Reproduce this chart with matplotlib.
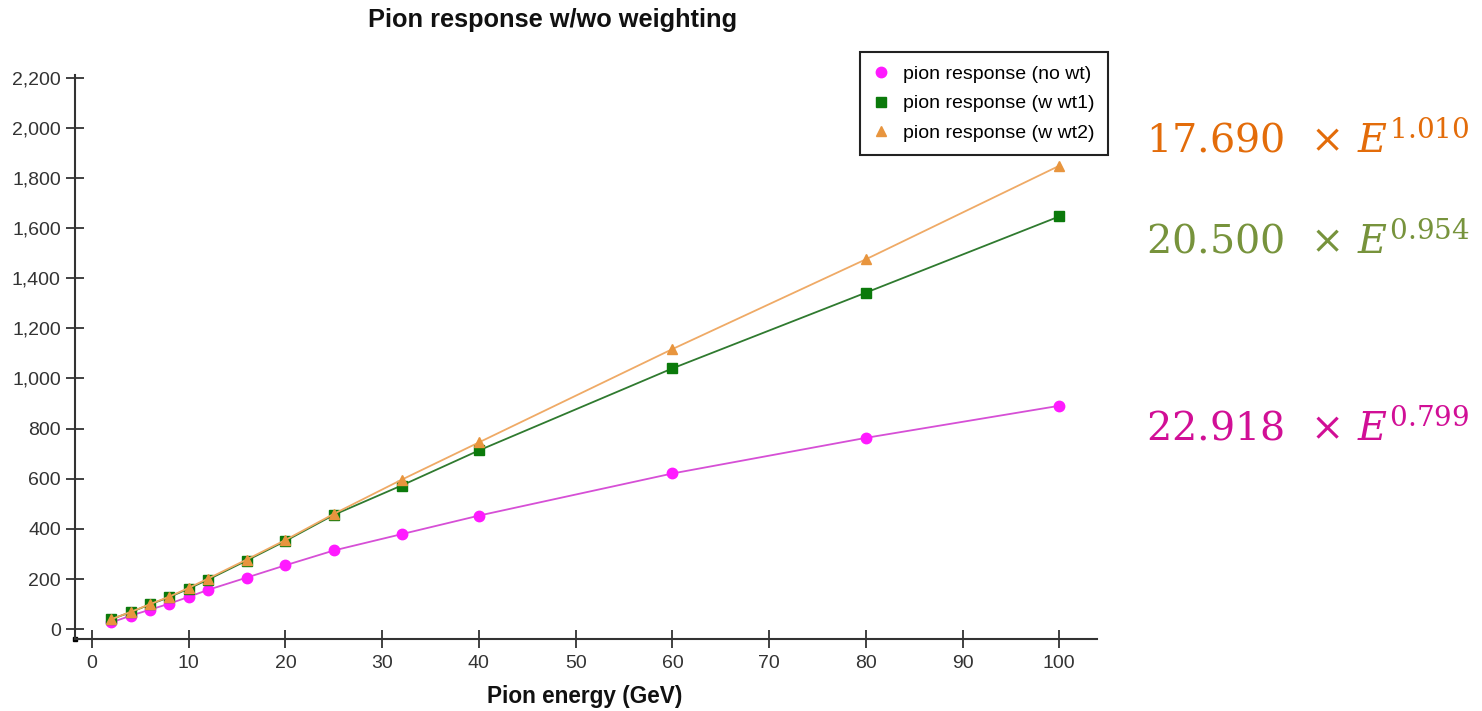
import numpy as np
import matplotlib.pyplot as plt
from matplotlib.ticker import FuncFormatter

# データ
energy = [2, 4, 6, 8, 10, 12, 16, 20, 25, 32, 40, 60, 80, 100]
resp_no_wt = [27, 54, 78, 102, 129, 157, 206, 255, 314, 379, 453, 621, 763, 891]
resp_wt1 = [40, 68, 99, 128, 162, 198, 274, 352, 456, 573, 713, 1040, 1342, 1646]
resp_wt2 = [40, 69, 100, 130, 165, 202, 278, 356, 460, 596, 745, 1117, 1475, 1848]

labels = ["pion response (no wt)", "pion response (w wt1)", "pion response (w wt2)"]
fit_texts = [r"$17.690\ \,\times\,E^{1.010}$", r"$20.500\ \,\times\,E^{0.954}$",
             r"$22.918\ \,\times\,E^{0.799}$"]
x_ticks = np.arange(0, 101, 10)
y_ticks = np.arange(0, 2201, 200)

plt.rcParams['font.family'] = ['Liberation Sans', 'DejaVu Sans']
plt.rcParams['mathtext.fontset'] = 'dejavuserif'

W, H = 1482, 711
fig = plt.figure(figsize=(W / 100, H / 100), dpi=100)
ax = fig.add_axes([75 / W, 1 - 639 / H, (1097 - 75) / W, (639 - 75) / H])

ax.plot(energy, resp_no_wt, color='#d64fd6', lw=1.3, marker='o', ms=7.5,
        mfc='#ff1aff', mec='#ff1aff', label=labels[0], zorder=3)
ax.plot(energy, resp_wt1, color='#2f7a2f', lw=1.3, marker='s', ms=6.5,
        mfc='#0b7a0b', mec='#0b7a0b', label=labels[1], zorder=4)
ax.plot(energy, resp_wt2, color='#efaa66', lw=1.3, marker='^', ms=6.5,
        mfc='#e8953e', mec='#e8953e', label=labels[2], zorder=5)

ax.set_xlim(-1.76, 103.9)
ax.set_ylim(-39, 2210)
ax.set_xticks(x_ticks)
ax.set_yticks(y_ticks)
ax.yaxis.set_major_formatter(FuncFormatter(lambda v, p: f"{v:,.0f}"))

for s in ['top', 'right']:
    ax.spines[s].set_visible(False)
for s in ['left', 'bottom']:
    ax.spines[s].set_linewidth(1.5)
    ax.spines[s].set_color('#333333')
ax.tick_params(direction='inout', length=12.5, width=1.3, color='#333333',
               labelsize=14, labelcolor='#333333')
ax.tick_params(axis='y', pad=4)
ax.tick_params(axis='x', pad=5)

# 原点の小さな四角
ax.plot([0], [0], marker='s', ms=3, color='black', transform=ax.transAxes,
        clip_on=False)

leg = ax.legend(loc='upper right', bbox_to_anchor=(1108 / W, 1 - 52 / H),
                bbox_transform=fig.transFigure, fontsize=14, fancybox=False,
                edgecolor='#222222', framealpha=1, handlelength=0.7,
                handletextpad=0.8, borderpad=0.7, labelspacing=0.6,
                borderaxespad=0)
leg.get_frame().set_linewidth(1.5)
for h in leg.legend_handles:
    h.set_linestyle('none')

fig.text(553 / W, 1 - 20 / H, "Pion response w/wo weighting", ha='center',
         va='center', fontsize=18.3, fontweight='bold', color='#111111')
fig.text(585 / W, 1 - 697 / H, "Pion energy (GeV)", ha='center', va='center',
         fontsize=16.3, fontweight='bold', color='#111111')

fit_colors = ['#e36c0a', '#77933c', '#d10f96']
fit_y = [152, 253, 440]
for t, c, yb in zip(fit_texts, fit_colors, fit_y):
    fig.text(1146 / W, 1 - yb / H, t, ha='left', va='baseline', fontsize=28.5,
             color=c)

plt.savefig("out.png", dpi=100)
